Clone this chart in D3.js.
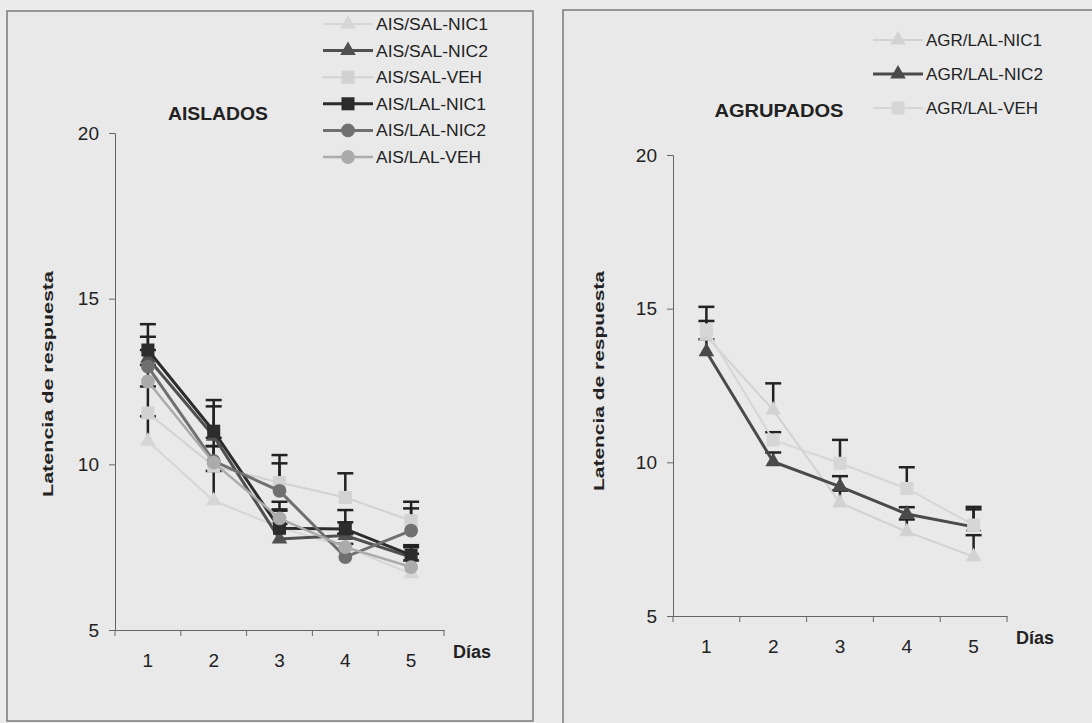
<!DOCTYPE html>
<html>
<head>
<script src="https://d3js.org/d3.v7.min.js"></script>
<style>
  body { margin: 0; background: #ebebeb; }
  text { font-family: "Liberation Sans", Arial, sans-serif; fill: #222; }
</style>
</head>
<body>
<div id="chart"></div>
<script>
// days on the x axis
var days = ["1", "2", "3", "4", "5"];

// AISLADOS panel
var aisNames = ["AIS/SAL-NIC1", "AIS/SAL-NIC2", "AIS/SAL-VEH", "AIS/LAL-NIC1", "AIS/LAL-NIC2", "AIS/LAL-VEH"];
var aisSalNic1 = [10.7, 8.9, 8.1, 7.5, 6.7];
var aisSalNic2 = [13.2, 10.85, 7.75, 7.85, 7.2];
var aisSalVeh  = [11.55, 9.95, 9.45, 9.0, 8.3];
var aisLalNic1 = [13.45, 11.0, 8.07, 8.05, 7.26];
var aisLalNic2 = [12.95, 10.1, 9.2, 7.2, 8.0];
var aisLalVeh  = [12.5, 10.05, 8.37, 7.5, 6.9];
var aisSalNic1Err = [0.75, 0.9, 0.5, 0.4, 0.4];
var aisSalNic2Err = [0.65, 0.9, 0.45, 0.4, 0.3];
var aisSalVehErr  = [0.8, 0.6, 0.58, 0.73, 0.37];
var aisLalNic1Err = [0.78, 0.94, 0.57, 0.57, 0.3];
var aisLalNic2Err = [0.5, 0.7, 1.08, 0.4, 0.87];
var aisLalVehErr  = [0.5, 0.5, 0.5, 0.4, 0.4];

// AGRUPADOS panel
var agrNames = ["AGR/LAL-NIC1", "AGR/LAL-NIC2", "AGR/LAL-VEH"];
var agrLalNic1 = [14.1, 11.7, 8.68, 7.74, 6.93];
var agrLalNic2 = [13.6, 10.02, 9.21, 8.32, 7.9];
var agrLalVeh  = [14.31, 10.73, 9.97, 9.15, 7.96];
var agrLalNic1Err = [0.5, 0.87, 0.4, 0.4, 0.7];
var agrLalNic2Err = [0.4, 0.3, 0.34, 0.22, 0.57];
var agrLalVehErr  = [0.75, 0.25, 0.76, 0.69, 0.59];

var yTicks = [5, 10, 15, 20];

var W = 1092, H = 723;
var svg = d3.select("#chart").append("svg")
    .attr("width", W).attr("height", H);

svg.append("rect").attr("width", W).attr("height", H).attr("fill", "#ebebeb");

function panel(cfg) {
    // frame
    svg.append("rect")
        .attr("x", cfg.frame[0]).attr("y", cfg.frame[1])
        .attr("width", cfg.frame[2]).attr("height", cfg.frame[3])
        .attr("fill", "#e9e9e9").attr("stroke", "#7a7a7a").attr("stroke-width", 1.5);

    var x = d3.scaleBand().domain(days).range([cfg.x0, cfg.x1]);
    var y = d3.scaleLinear().domain([5, 20]).range([cfg.yBottom, cfg.yTop]);

    var g = svg.append("g");

    var xAxis = g.append("g")
        .attr("transform", "translate(0," + cfg.yBottom + ")")
        .call(d3.axisBottom(x).tickSize(0).tickPadding(24));
    xAxis.select(".domain").attr("stroke", "#666");
    xAxis.selectAll("text").attr("font-size", 19).attr("fill", "#333");
    // tick marks between categories
    xAxis.selectAll("line.sep")
        .data(d3.range(days.length + 1))
        .enter().append("line")
        .attr("class", "sep")
        .attr("x1", function(i) { return cfg.x0 + i * x.step(); })
        .attr("x2", function(i) { return cfg.x0 + i * x.step(); })
        .attr("y1", 0).attr("y2", 6)
        .attr("stroke", "#666");

    var yAxis = g.append("g")
        .attr("transform", "translate(" + cfg.x0 + ",0)")
        .call(d3.axisLeft(y).tickValues(yTicks).tickSize(6).tickPadding(10));
    yAxis.select(".domain").attr("stroke", "#666");
    yAxis.selectAll("line").attr("stroke", "#666");
    yAxis.selectAll("text").attr("font-size", 19).attr("fill", "#333");

    g.append("text")
        .attr("x", cfg.x1 + 9).attr("y", cfg.yBottom + 28)
        .attr("font-size", 18).attr("font-weight", "bold")
        .text("Días");

    g.append("text")
        .attr("transform", "translate(" + cfg.yLabelX + "," + cfg.yLabelY + ") rotate(-90)")
        .attr("text-anchor", "middle")
        .attr("font-size", 15).attr("font-weight", "bold")
        .attr("textLength", cfg.yLabelLen).attr("lengthAdjust", "spacingAndGlyphs")
        .text("Latencia de respuesta");

    g.append("text")
        .attr("x", cfg.titleX).attr("y", cfg.titleY)
        .attr("text-anchor", "middle")
        .attr("font-size", 18).attr("font-weight", "bold")
        .attr("textLength", cfg.titleLen).attr("lengthAdjust", "spacingAndGlyphs")
        .text(cfg.title);

    var cx = function(i) { return x(days[i]) + x.bandwidth() / 2; };

    // error bars (plus only)
    cfg.series.forEach(function(s) {
        var eb = g.append("g");
        s.values.forEach(function(v, i) {
            var top = y(v + s.err[i]);
            eb.append("line")
                .attr("x1", cx(i)).attr("x2", cx(i))
                .attr("y1", y(v)).attr("y2", top)
                .attr("stroke", "#222").attr("stroke-width", 2.5);
            eb.append("line")
                .attr("x1", cx(i) - 8).attr("x2", cx(i) + 8)
                .attr("y1", top).attr("y2", top)
                .attr("stroke", "#222").attr("stroke-width", 2.5);
        });
    });

    var line = d3.line()
        .x(function(d, i) { return cx(i); })
        .y(function(d) { return y(d); });

    var sym = {
        triangle: d3.symbol().type(d3.symbolTriangle).size(105),
        square: d3.symbol().type(d3.symbolSquare).size(170),
        circle: d3.symbol().type(d3.symbolCircle).size(150)
    };

    cfg.series.forEach(function(s) {
        g.append("path")
            .datum(s.values)
            .attr("d", line)
            .attr("fill", "none")
            .attr("stroke", s.color)
            .attr("stroke-width", s.width);
        g.selectAll(null)
            .data(s.values)
            .enter().append("path")
            .attr("transform", function(d, i) { return "translate(" + cx(i) + "," + y(d) + ")"; })
            .attr("d", sym[s.shape])
            .attr("fill", s.color);
    });

    // legend
    var lg = g.append("g");
    cfg.series.forEach(function(s, i) {
        var ly = cfg.legY + i * cfg.legStep;
        lg.append("line")
            .attr("x1", cfg.legX).attr("x2", cfg.legX + 50)
            .attr("y1", ly).attr("y2", ly)
            .attr("stroke", s.color).attr("stroke-width", s.width);
        lg.append("path")
            .attr("transform", "translate(" + (cfg.legX + 25) + "," + ly + ")")
            .attr("d", sym[s.shape])
            .attr("fill", s.color);
        lg.append("text")
            .attr("x", cfg.legX + 53).attr("y", ly + 6)
            .attr("font-size", 16).attr("fill", "#333")
            .attr("textLength", cfg.legTextLen[i]).attr("lengthAdjust", "spacingAndGlyphs")
            .text(s.name);
    });
}

var aisColors = ["#d6d6d6", "#505050", "#d2d2d2", "#2c2c2c", "#707070", "#ababab"];
var aisShapes = ["triangle", "triangle", "square", "square", "circle", "circle"];
var aisWidths = [2, 3, 2, 3, 3, 2.5];
var aisValues = [aisSalNic1, aisSalNic2, aisSalVeh, aisLalNic1, aisLalNic2, aisLalVeh];
var aisErrs = [aisSalNic1Err, aisSalNic2Err, aisSalVehErr, aisLalNic1Err, aisLalNic2Err, aisLalVehErr];

panel({
    frame: [7, 11, 526, 710],
    x0: 115, x1: 444, yTop: 133, yBottom: 630,
    yLabelX: 53, yLabelY: 384, yLabelLen: 226,
    titleX: 218, titleY: 120, title: "AISLADOS", titleLen: 100,
    legX: 323, legY: 24, legStep: 26.6,
    legTextLen: [112, 112, 106, 110, 110, 105],
    series: aisNames.map(function(n, i) {
        return { name: n, values: aisValues[i], err: aisErrs[i], color: aisColors[i], shape: aisShapes[i], width: aisWidths[i] };
    })
});

var agrColors = ["#d2d2d2", "#4a4a4a", "#d6d6d6"];
var agrShapes = ["triangle", "triangle", "square"];
var agrWidths = [2, 3, 2];
var agrValues = [agrLalNic1, agrLalNic2, agrLalVeh];
var agrErrs = [agrLalNic1Err, agrLalNic2Err, agrLalVehErr];

panel({
    frame: [563, 10, 560, 740],
    x0: 673, x1: 1007, yTop: 155, yBottom: 616,
    yLabelX: 604, yLabelY: 381, yLabelLen: 220,
    titleX: 779, titleY: 117, title: "AGRUPADOS", titleLen: 129,
    legX: 873, legY: 40, legStep: 34,
    legTextLen: [116, 117, 112],
    series: agrNames.map(function(n, i) {
        return { name: n, values: agrValues[i], err: agrErrs[i], color: agrColors[i], shape: agrShapes[i], width: agrWidths[i] };
    })
});
</script>
</body>
</html>
